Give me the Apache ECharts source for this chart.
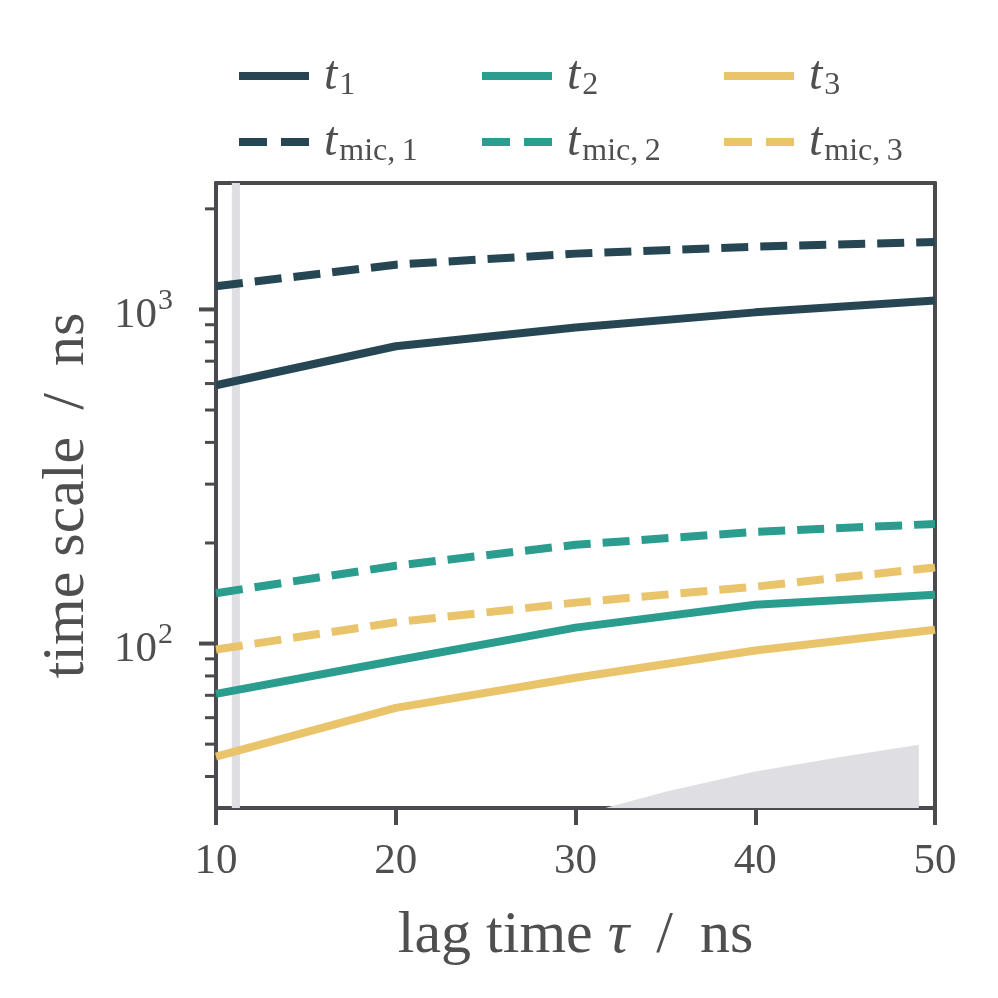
<!DOCTYPE html>
<html>
<head>
<meta charset="utf-8">
<script src="https://cdn.jsdelivr.net/npm/echarts@6/dist/echarts.min.js"></script>
<style>html,body{margin:0;padding:0;background:#fff;}#c{width:998px;height:998px;}</style>
</head>
<body>
<div id="c"></div>
<script>
// ---- data ----
const lagTimes = [10, 20, 30, 40, 50];
const t1 = [593, 776, 883, 980, 1064];
const tmic1 = [1174, 1361, 1469, 1541, 1591];
const t2 = [70.7, 89, 111.6, 130.6, 140];
const tmic2 = [141.5, 171, 197.5, 216, 228];
const t3 = [45.9, 64.2, 79, 95.3, 110];
const tmic3 = [96, 115.8, 132.6, 148, 169];
// shaded region (time scale below lag time) and the thin vertical band
const limitTau = [10, 20, 31, 35, 40, 45, 49.1];
const limitT = [10, 20.3, 31.5, 36, 41.4, 46, 49.8];
const bandRange = [10.88, 11.33];
const yMajorTicks = [100, 1000];
const yMinorTicks = [40, 50, 60, 70, 80, 90, 200, 300, 400, 500, 600, 700, 800, 900, 2000];

const C1 = '#264653', C2 = '#2a9d8f', C3 = '#e9c46a';
const AX = '#4b4b4f', TXT = '#4f4f4f', SHADE = '#dedee3';
const FONT = 'Liberation Serif';
const YMIN = 32.2, YMAX = 2390;

const zip = (xs, ys) => xs.map((x, i) => [x, ys[i]]);

function lineSeries(name, data, color, dashed) {
  return {
    name, type: 'line', data: zip(lagTimes, data), symbol: 'none', showSymbol: false, z: 5,
    lineStyle: { color, width: 8, type: dashed ? [27, 12] : 'solid', cap: 'butt' },
    itemStyle: { color }
  };
}

function tickSeries(vals, len, width) {
  return {
    type: 'custom', coordinateSystem: 'cartesian2d', silent: true, z: 10, clip: false,
    data: vals.map(v => [lagTimes[0], v]),
    encode: { x: 0, y: 1 },
    renderItem: function (params, api) {
      const p = api.coord([api.value(0), api.value(1)]);
      return { type: 'line', shape: { x1: p[0] - len, y1: p[1], x2: p[0], y2: p[1] },
        style: { stroke: AX, lineWidth: width } };
    }
  };
}

const legendRich = {
  i: { fontFamily: FONT, fontStyle: 'italic', fontSize: 48, color: TXT, lineHeight: 48, verticalAlign: 'middle' },
  s: { fontFamily: FONT, fontSize: 32, color: TXT, padding: [20, 0, 0, 2], verticalAlign: 'middle' }
};
const legendLabels = {
  't1': '{i|t}{s|1}', 't2': '{i|t}{s|2}', 't3': '{i|t}{s|3}',
  'tmic1': '{i|t}{s|mic,\u20091}', 'tmic2': '{i|t}{s|mic,\u20092}', 'tmic3': '{i|t}{s|mic,\u20093}'
};
function legend(name, left, top, dashed) {
  return {
    data: [name], left, top, itemWidth: 70, itemHeight: 14, itemGap: 10, padding: 0,
    itemStyle: { opacity: 0 },
    lineStyle: { width: 8, type: dashed ? [28, 14] : 'solid', cap: 'butt', opacity: 1 },
    formatter: n => legendLabels[n],
    textStyle: { rich: legendRich, padding: [0, 0, 0, 10] }
  };
}

const chart = echarts.init(document.getElementById('c'), null, { renderer: 'canvas' });
chart.setOption({
  animation: false,
  backgroundColor: '#fff',
  legend: [
    legend('t1', 235, 52, false), legend('t2', 478, 52, false), legend('t3', 720, 52, false),
    legend('tmic1', 235, 118, true), legend('tmic2', 478, 118, true), legend('tmic3', 720, 118, true)
  ],
  grid: { left: 216, right: 63, top: 183, bottom: 190 },
  xAxis: [{
    type: 'value', min: 10, max: 50, interval: 10,
    name: '{r|lag time }{i|τ}{r| \u2009/\u2009 ns}', nameLocation: 'middle', nameGap: 98,
    nameTextStyle: { rich: {
      r: { fontFamily: FONT, fontSize: 60, color: TXT },
      i: { fontFamily: FONT, fontStyle: 'italic', fontSize: 60, color: TXT }
    } },
    axisLine: { show: true, lineStyle: { color: AX, width: 4 } },
    axisTick: { show: true, inside: false, length: 17, lineStyle: { color: AX, width: 4 } },
    axisLabel: { fontFamily: FONT, fontSize: 43, color: TXT, margin: 32 },
    splitLine: { show: false }
  }, {
    type: 'value', min: 10, max: 50, position: 'top',
    axisLine: { show: true, lineStyle: { color: AX, width: 4 } },
    axisTick: { show: false }, axisLabel: { show: false }, splitLine: { show: false }
  }],
  yAxis: [{
    type: 'log', logBase: 10, min: YMIN, max: YMAX,
    name: 'time scale \u2009/\u2009 ns', nameLocation: 'middle', nameGap: 119, nameRotate: 90,
    nameTextStyle: { fontFamily: FONT, fontSize: 60, color: TXT },
    axisLine: { show: true, lineStyle: { color: AX, width: 4 } },
    axisTick: { show: false },
    axisLabel: {
      margin: 43, showMinLabel: false, showMaxLabel: false,
      formatter: function (v) {
        const e = Math.log10(v);
        if (Math.abs(e - Math.round(e)) > 1e-6) return '';
        return '{b|10}{sup|' + Math.round(e) + '}';
      },
      rich: {
        b: { fontFamily: FONT, fontSize: 43, color: TXT, padding: [12, 0, 0, 0] },
        sup: { fontFamily: FONT, fontSize: 30, color: TXT, padding: [0, 0, 16, 1] }
      }
    },
    splitLine: { show: false }
  }, {
    type: 'log', logBase: 10, min: YMIN, max: YMAX, position: 'right',
    axisLine: { show: true, lineStyle: { color: AX, width: 4 } },
    axisTick: { show: false }, axisLabel: { show: false }, splitLine: { show: false }
  }],
  series: [
    {
      type: 'custom', coordinateSystem: 'cartesian2d', silent: true, z: 1,
      data: [[bandRange[0], bandRange[1]]],
      renderItem: function (params, api) {
        const a = api.coord([api.value(0), YMAX]);
        const b = api.coord([api.value(1), YMIN]);
        return { type: 'rect', shape: { x: a[0], y: a[1], width: b[0] - a[0], height: b[1] - a[1] },
          style: { fill: SHADE } };
      }
    },
    {
      type: 'line', data: zip(limitTau, limitT), symbol: 'none', z: 1, silent: true,
      lineStyle: { width: 0, opacity: 0 }, areaStyle: { color: SHADE, opacity: 1, origin: 'start' }
    },
    lineSeries('t1', t1, C1, false),
    lineSeries('t2', t2, C2, false),
    lineSeries('t3', t3, C3, false),
    lineSeries('tmic1', tmic1, C1, true),
    lineSeries('tmic2', tmic2, C2, true),
    lineSeries('tmic3', tmic3, C3, true),
    tickSeries(yMajorTicks, 17, 4),
    tickSeries(yMinorTicks, 11, 3)
  ]
});
</script>
</body>
</html>
